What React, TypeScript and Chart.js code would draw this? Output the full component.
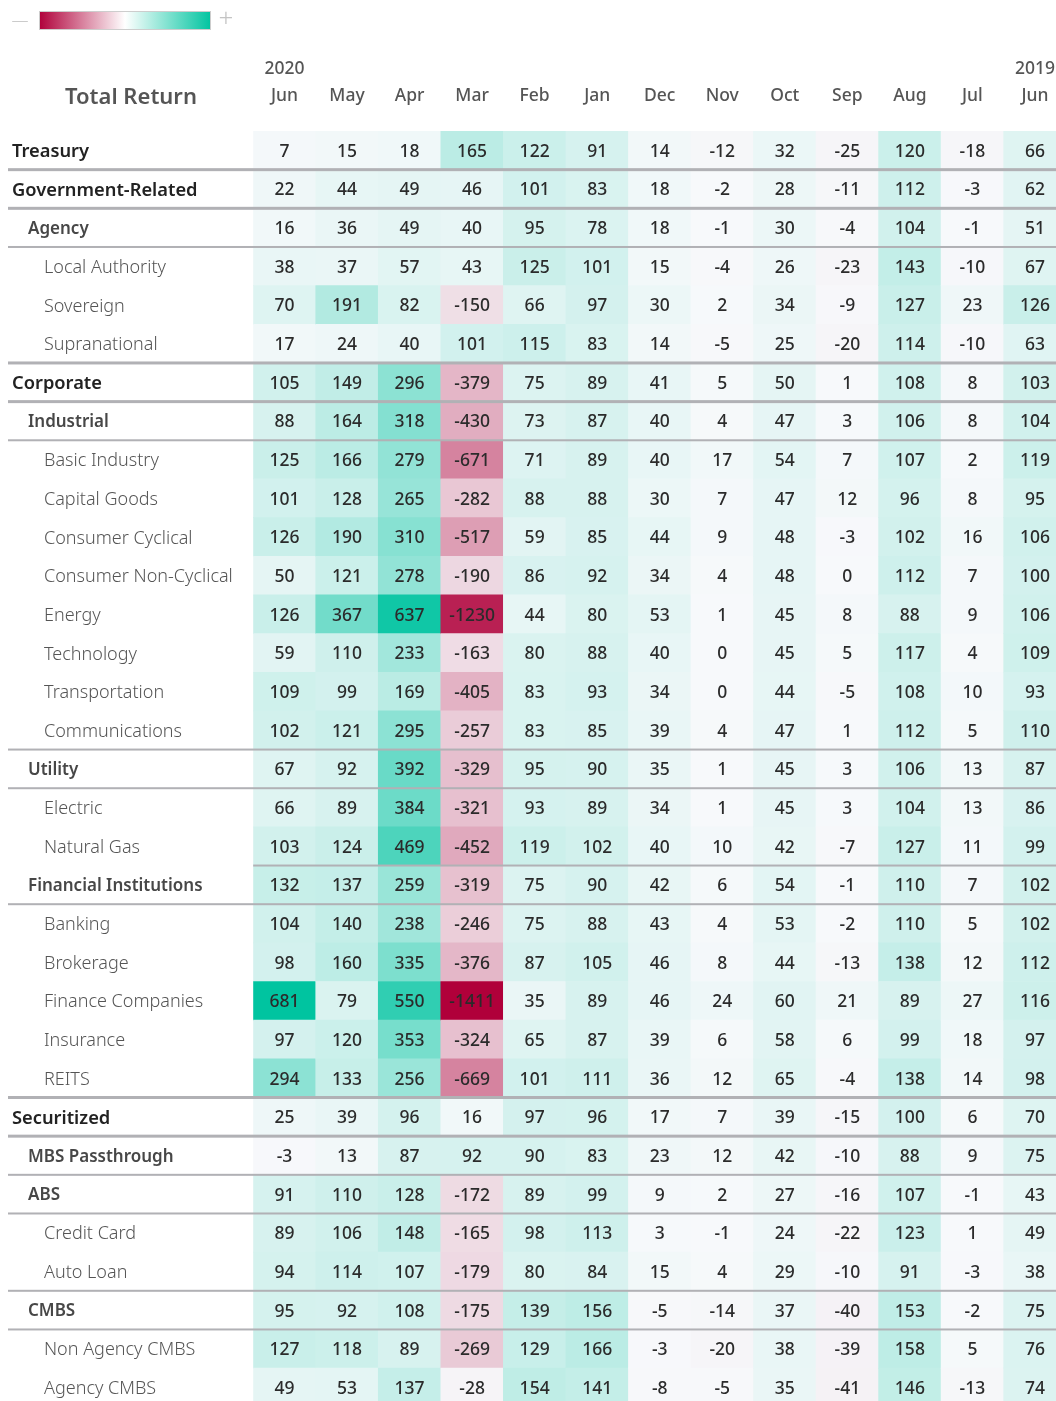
import React, { useEffect, useRef } from 'react';
import { Chart, registerables } from 'chart.js';

Chart.register(...registerables);

// ---------- DATA ----------
const monthLabels = ['Jun', 'May', 'Apr', 'Mar', 'Feb', 'Jan', 'Dec', 'Nov', 'Oct', 'Sep', 'Aug', 'Jul', 'Jun'];
const yearLabels = ['2020', '', '', '', '', '', '', '', '', '', '', '', '2019'];

const rowLabels = [
  'Treasury', 'Government-Related', 'Agency', 'Local Authority', 'Sovereign', 'Supranational',
  'Corporate', 'Industrial', 'Basic Industry', 'Capital Goods', 'Consumer Cyclical',
  'Consumer Non-Cyclical', 'Energy', 'Technology', 'Transportation', 'Communications',
  'Utility', 'Electric', 'Natural Gas', 'Financial Institutions', 'Banking', 'Brokerage',
  'Finance Companies', 'Insurance', 'REITS', 'Securitized', 'MBS Passthrough', 'ABS',
  'Credit Card', 'Auto Loan', 'CMBS', 'Non Agency CMBS', 'Agency CMBS',
];
// hierarchy level of each row (0 = sector, 1 = sub-sector, 2 = industry)
const rowLevels = [0, 0, 1, 2, 2, 2, 0, 1, 2, 2, 2, 2, 2, 2, 2, 2, 1, 2, 2, 1, 2, 2, 2, 2, 2, 0, 1, 1, 2, 2, 1, 2, 2];

const jun2020 = [7, 22, 16, 38, 70, 17, 105, 88, 125, 101, 126, 50, 126, 59, 109, 102, 67, 66, 103, 132, 104, 98, 681, 97, 294, 25, -3, 91, 89, 94, 95, 127, 49];
const may2020 = [15, 44, 36, 37, 191, 24, 149, 164, 166, 128, 190, 121, 367, 110, 99, 121, 92, 89, 124, 137, 140, 160, 79, 120, 133, 39, 13, 110, 106, 114, 92, 118, 53];
const apr2020 = [18, 49, 49, 57, 82, 40, 296, 318, 279, 265, 310, 278, 637, 233, 169, 295, 392, 384, 469, 259, 238, 335, 550, 353, 256, 96, 87, 128, 148, 107, 108, 89, 137];
const mar2020 = [165, 46, 40, 43, -150, 101, -379, -430, -671, -282, -517, -190, -1230, -163, -405, -257, -329, -321, -452, -319, -246, -376, -1411, -324, -669, 16, 92, -172, -165, -179, -175, -269, -28];
const feb2020 = [122, 101, 95, 125, 66, 115, 75, 73, 71, 88, 59, 86, 44, 80, 83, 83, 95, 93, 119, 75, 75, 87, 35, 65, 101, 97, 90, 89, 98, 80, 139, 129, 154];
const jan2020 = [91, 83, 78, 101, 97, 83, 89, 87, 89, 88, 85, 92, 80, 88, 93, 85, 90, 89, 102, 90, 88, 105, 89, 87, 111, 96, 83, 99, 113, 84, 156, 166, 141];
const dec2019 = [14, 18, 18, 15, 30, 14, 41, 40, 40, 30, 44, 34, 53, 40, 34, 39, 35, 34, 40, 42, 43, 46, 46, 39, 36, 17, 23, 9, 3, 15, -5, -3, -8];
const nov2019 = [-12, -2, -1, -4, 2, -5, 5, 4, 17, 7, 9, 4, 1, 0, 0, 4, 1, 1, 10, 6, 4, 8, 24, 6, 12, 7, 12, 2, -1, 4, -14, -20, -5];
const oct2019 = [32, 28, 30, 26, 34, 25, 50, 47, 54, 47, 48, 48, 45, 45, 44, 47, 45, 45, 42, 54, 53, 44, 60, 58, 65, 39, 42, 27, 24, 29, 37, 38, 35];
const sep2019 = [-25, -11, -4, -23, -9, -20, 1, 3, 7, 12, -3, 0, 8, 5, -5, 1, 3, 3, -7, -1, -2, -13, 21, 6, -4, -15, -10, -16, -22, -10, -40, -39, -41];
const aug2019 = [120, 112, 104, 143, 127, 114, 108, 106, 107, 96, 102, 112, 88, 117, 108, 112, 106, 104, 127, 110, 110, 138, 89, 99, 138, 100, 88, 107, 123, 91, 153, 158, 146];
const jul2019 = [-18, -3, -1, -10, 23, -10, 8, 8, 2, 8, 16, 7, 9, 4, 10, 5, 13, 13, 11, 7, 5, 12, 27, 18, 14, 6, 9, -1, 1, -3, -2, 5, -13];
const jun2019 = [66, 62, 51, 67, 126, 63, 103, 104, 119, 95, 106, 100, 106, 109, 93, 110, 87, 86, 99, 102, 102, 112, 116, 97, 98, 70, 75, 43, 49, 38, 75, 76, 74];

const columns = [jun2020, may2020, apr2020, mar2020, feb2020, jan2020, dec2019, nov2019, oct2019, sep2019, aug2019, jul2019, jun2019];

// separators drawn below these rows
const thickAfter = [0, 1, 5, 6, 24, 25];
const thinAfter = [2, 7, 15, 16, 19, 26, 27, 29, 30];
const thinCellsOnlyAfter = [18];

// ---------- STYLE ----------
const FONT = '"Noto Sans"';
const POS = [0, 196, 160];
const NEG = [176, 0, 58];
const MID = [247, 249, 251];
const W = 1056;
const H = 1401;
const LEFT = 253.2;
const TOP = 131;
const COL_W = 62.54;
const ROW_H = 38.66;
const TEXT_DY = 1.5;

const allVals = columns.flat();
const maxPos = Math.max(...allVals);
const minNeg = Math.min(...allVals);

function cellColor(v: number): string {
  let t: number;
  let target: number[];
  if (v >= 0) {
    t = v / maxPos;
    target = POS;
  } else {
    t = v / minNeg;
    target = NEG;
  }
  const c = MID.map((m, i) => Math.round(m + (target[i] - m) * t));
  return `rgb(${c[0]},${c[1]},${c[2]})`;
}

const labelStyles = [
  { x: 12, font: `600 18.3px ${FONT}`, color: '#222' },
  { x: 28, font: `600 17px ${FONT}`, color: '#474747' },
  { x: 44, font: `300 18px ${FONT}`, color: '#555' },
];

const decorPlugin = {
  id: 'tableDecor',
  afterDatasetsDraw(chart: any) {
    const { ctx, scales, chartArea } = chart;
    const xs = scales.x;
    const ys = scales.y;
    ctx.save();
    // cell values
    ctx.font = `500 17.5px ${FONT}`;
    ctx.fillStyle = '#2b2b2b';
    ctx.textAlign = 'center';
    ctx.textBaseline = 'middle';
    columns.forEach((col, c) => {
      col.forEach((v, r) => {
        ctx.fillText(String(v), xs.getPixelForValue(c + 0.5), ys.getPixelForValue(r + 0.5) + TEXT_DY);
      });
    });
    // row labels
    ctx.textAlign = 'left';
    rowLabels.forEach((lab, r) => {
      const st = labelStyles[rowLevels[r]];
      ctx.font = st.font;
      ctx.fillStyle = st.color;
      ctx.fillText(lab, st.x, ys.getPixelForValue(r + 0.5) + TEXT_DY);
    });
    // separators
    ctx.fillStyle = '#b1b1b5';
    thickAfter.forEach((r) => {
      const yy = ys.getPixelForValue(r + 1);
      ctx.fillRect(8, yy - 1.5, chart.width - 8, 3);
    });
    thinAfter.forEach((r) => {
      const yy = ys.getPixelForValue(r + 1);
      ctx.fillRect(8, yy - 1, chart.width - 8, 2);
    });
    thinCellsOnlyAfter.forEach((r) => {
      const yy = ys.getPixelForValue(r + 1);
      ctx.fillRect(chartArea.left, yy - 1, chart.width - chartArea.left, 2);
    });
    ctx.restore();
  },
  afterDraw(chart: any) {
    const { ctx } = chart;
    ctx.save();
    // colour legend
    const gx0 = 39, gx1 = 211, gy0 = 11, gy1 = 30;
    const grad = ctx.createLinearGradient(gx0, 0, gx1, 0);
    grad.addColorStop(0, `rgb(${NEG.join(',')})`);
    grad.addColorStop(0.5, '#ffffff');
    grad.addColorStop(1, `rgb(${POS.join(',')})`);
    ctx.fillStyle = grad;
    ctx.fillRect(gx0, gy0, gx1 - gx0, gy1 - gy0);
    ctx.strokeStyle = '#cdcdcd';
    ctx.lineWidth = 1;
    ctx.strokeRect(gx0 + 0.5, gy0 + 0.5, gx1 - gx0 - 1, gy1 - gy0 - 1);
    ctx.fillStyle = '#c4c4c4';
    ctx.textBaseline = 'middle';
    ctx.textAlign = 'center';
    ctx.font = `300 17px ${FONT}`;
    ctx.fillText('—', 20, 21);
    ctx.font = `300 26px ${FONT}`;
    ctx.fillText('+', 226, 20);
    // title
    ctx.font = `600 22px ${FONT}`;
    ctx.fillStyle = '#555';
    ctx.fillText('Total Return', 131, 98);
    ctx.restore();
  },
};

export default function App() {
  const ref = useRef<HTMLCanvasElement | null>(null);
  useEffect(() => {
    document.body.style.margin = '0';
    document.body.style.overflow = 'hidden';
    if (!ref.current) return;
    const data: any[] = [];
    const colors: string[] = [];
    columns.forEach((col, c) => {
      col.forEach((v, r) => {
        data.push({ x: [c, c + 1], y: r + 0.5 });
        colors.push(cellColor(v));
      });
    });
    const chart = new Chart(ref.current, {
      type: 'bar',
      data: {
        datasets: [
          {
            data,
            backgroundColor: colors,
            borderWidth: 0,
            borderSkipped: false,
            barPercentage: 1,
            categoryPercentage: 1,
          } as any,
        ],
      },
      options: {
        indexAxis: 'y',
        responsive: false,
        animation: false,
        events: [],
        layout: { padding: { left: LEFT, right: 0, top: 0, bottom: 0 } },
        plugins: { legend: { display: false }, tooltip: { enabled: false } },
        scales: {
          x: {
            type: 'linear',
            position: 'top',
            offset: false,
            min: 0,
            max: (W - LEFT) / COL_W,
            grid: { display: false, drawTicks: false },
            border: { display: false },
            afterBuildTicks: (scale: any) => {
              scale.ticks = monthLabels.map((_, i) => ({ value: i + 0.5 }));
            },
            afterFit: (scale: any) => {
              scale.height = TOP;
              scale.paddingLeft = 0;
              scale.paddingRight = 0;
            },
            ticks: {
              autoSkip: false,
              maxRotation: 0,
              padding: 21,
              color: '#555',
              font: { family: 'Noto Sans', size: 17.5, weight: '500', lineHeight: 1.55 },
              callback: (_v: any, i: number) => (yearLabels[i] ? [yearLabels[i], monthLabels[i]] : monthLabels[i]),
            },
          },
          y: {
            type: 'linear',
            reverse: true,
            display: false,
            offset: false,
            min: 0,
            max: (H - TOP) / ROW_H,
            afterBuildTicks: (scale: any) => {
              scale.ticks = rowLabels.map((_, i) => ({ value: i + 0.5 }));
            },
          },
        },
      } as any,
      plugins: [decorPlugin],
    });
    return () => chart.destroy();
  }, []);
  return (
    <div style={{ width: W, height: H, overflow: 'hidden' }}>
      <canvas ref={ref} width={W} height={H} style={{ display: 'block', width: W, height: H }} />
    </div>
  );
}
